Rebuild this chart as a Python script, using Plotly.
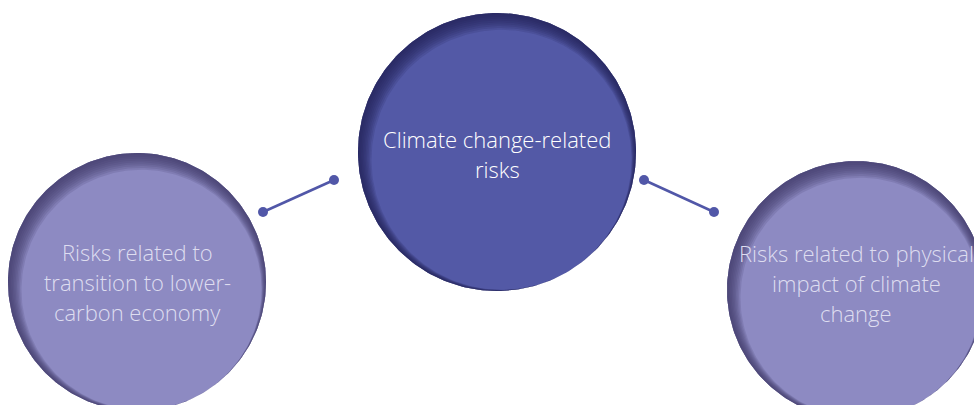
"""Climate change risk diagram: three bubbles joined by connectors."""

import numpy as np
import plotly.graph_objects as go

# node data (pixel space of a 974x405 canvas, y grows downward)
node_labels = [
    ["Climate change-related", "risks"],
    ["Risks related to", "transition to lower-", "carbon economy"],
    ["Risks related to physical", "impact of climate", "change"],
]
node_x = [497, 137, 856]
node_y = [152, 282, 290]
node_r = [139, 129, 129]
node_fill = ["#5359A6", "#8D8AC2", "#8D8AC2"]
node_edge = ["#23245A", "#403E6C", "#403E6C"]
node_text = ["#FFFFFF", "#DEDDF0", "#DEDDF0"]
text_top = [139, 252, 253]

# connectors: (x0, y0, x1, y1)
link_x0 = [263, 644]
link_y0 = [212, 180]
link_x1 = [334, 714]
link_y1 = [180, 212]

W, H = 974, 405
LINE_GAP = 30
SHADE_STEPS = 9
LIGHT = np.array([0.5, 0.866])  # shadow falls on the top-left rim


def hex_rgba(h, a):
    h = h.lstrip("#")
    return f"rgba({int(h[0:2], 16)},{int(h[2:4], 16)},{int(h[4:6], 16)},{a})"


fig = go.Figure()

theta = np.linspace(0, 2 * np.pi, 241)
for cx, cy, r, fill, edge in zip(node_x, node_y, node_r, node_fill, node_edge):
    ox_c, oy_c = r * np.cos(theta), r * np.sin(theta)
    fig.add_trace(go.Scatter(
        x=cx + ox_c, y=cy + oy_c,
        mode="lines", line=dict(width=0), fill="toself", fillcolor=fill,
        hoverinfo="skip", showlegend=False,
    ))
    # inner shadow: crescents between the rim and an inset disc nudged down-right
    for i in range(1, SHADE_STEPS + 1):
        d = 1.0 * i
        sx, sy = LIGHT * d
        ix = cx + sx + (r - d) * np.cos(theta[::-1])
        iy = cy + sy + (r - d) * np.sin(theta[::-1])
        fig.add_trace(go.Scatter(
            x=np.concatenate([cx + ox_c, ix]), y=np.concatenate([cy + oy_c, iy]),
            mode="lines", line=dict(width=0), fill="toself",
            fillcolor=hex_rgba(edge, 0.17),
            hoverinfo="skip", showlegend=False,
        ))

for x0, y0, x1, y1 in zip(link_x0, link_y0, link_x1, link_y1):
    fig.add_trace(go.Scatter(
        x=[x0, x1], y=[y0, y1], mode="lines+markers",
        line=dict(color="#5157A8", width=2.5),
        marker=dict(color="#5157A8", size=10),
        hoverinfo="skip", showlegend=False,
    ))

for lines, cx, top, col in zip(node_labels, node_x, text_top, node_text):
    for i, line in enumerate(lines):
        fig.add_annotation(
            x=cx, y=top + i * LINE_GAP, text=line, showarrow=False,
            xanchor="center", yanchor="middle",
            font=dict(family="Open Sans", size=22, color=col, weight=300),
        )

fig.update_xaxes(range=[0, W], visible=False, fixedrange=True)
fig.update_yaxes(range=[H, 0], visible=False, fixedrange=True)
fig.update_layout(
    width=W, height=H, margin=dict(l=0, r=0, t=0, b=0),
    plot_bgcolor="white", paper_bgcolor="white",
)

fig.write_html(
    "out.html",
    config={"displayModeBar": False},
    post_script="document.body.style.margin='0';document.body.style.overflow='hidden';",
)
